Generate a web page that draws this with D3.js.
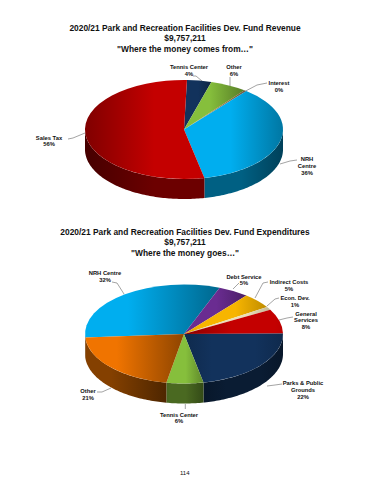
<!DOCTYPE html>
<html>
<head>
<meta charset="utf-8">
<script src="https://cdn.jsdelivr.net/npm/d3@7"></script>
<style>
  html, body { margin: 0; background: #fff; }
  text { font-family: "Liberation Sans", Arial, sans-serif; fill: #111; }
</style>
</head>
<body>
<div id="chart"></div>
<script>
// values
const revenueNames = ["Tennis Center", "Other", "Interest", "NRH Centre", "Sales Tax"];
const revenueShares = [4, 6, 0.4, 36, 54];   // slice sizes as they look in the picture
const revenueLabels = ["4%", "6%", "0%", "36%", "56%"];

const expenseNames = ["NRH Centre", "Debt Service", "Indirect Costs", "Econ. Dev.", "General Services", "Parks & Public Grounds", "Tennis Center", "Other"];
const expenseShares = [32, 5, 5, 1, 8, 22, 6, 21];
const expenseLabels = ["32%", "5%", "5%", "1%", "8%", "22%", "6%", "21%"];

const revenueTitle = ["2020/21 Park and Recreation Facilities Dev. Fund Revenue", "$9,757,211", "\"Where the money comes from…\""];
const expenseTitle = ["2020/21 Park and Recreation Facilities Dev. Fund Expenditures", "$9,757,211", "\"Where the money goes…\""];

// slice styles: base colour + which side of the slice is lit
const revenueStyle = [
  { c: "#12325c", lit: 0.3 }, { c: "#86bf3c", lit: 0.2 }, { c: "#c8a060", lit: 0 },
  { c: "#00aeef", lit: 0.25 }, { c: "#c40000", lit: 0.8 }
];
const expenseStyle = [
  { c: "#00aeef", lit: 0.1 }, { c: "#6a2c91", lit: 0.3 }, { c: "#f7b500", lit: 0.4 },
  { c: "#eadfb8", lit: 0.5 }, { c: "#c40000", lit: 0.7 }, { c: "#12325c", lit: 0.5 },
  { c: "#86bf3c", lit: 0.3 }, { c: "#f07400", lit: 0.1 }
];

// label layout: text anchor point, one entry per line, and leader line
const revenueLayout = [
  { x: 189, y: 69, lines: ["Tennis Center"], lead: [[193, 76], [196, 76], [202, 81]] },
  { x: 234, y: 69, lines: ["Other"], lead: [[230, 77], [230, 86]] },
  { x: 279, y: 85, lines: ["Interest"], lead: [[267, 83], [257, 85], [240, 94]] },
  { x: 307, y: 161, lines: ["NRH", "Centre"], lead: [[297, 160], [290, 161], [280, 164]] },
  { x: 49, y: 139.5, lines: ["Sales Tax"], lead: [[68, 139], [73, 138], [85, 133]] }
];
const expenseLayout = [
  { x: 105, y: 275, lines: ["NRH Centre"], lead: [[112, 282], [117, 283], [124, 294]] },
  { x: 244, y: 278.5, lines: ["Debt Service"], lead: [[239, 283], [233, 289]] },
  { x: 289, y: 284, lines: ["Indirect Costs"], lead: [[268, 282], [263, 283], [255, 298]] },
  { x: 295, y: 300, lines: ["Econ. Dev."], lead: [[279, 298], [275, 299], [267, 306]] },
  { x: 306, y: 315.5, lines: ["General", "Services"], lead: [[293, 317], [287, 318], [279, 320]] },
  { x: 303, y: 385, lines: ["Parks & Public", "Grounds"], lead: [[282, 384], [275, 385], [267, 386]] },
  { x: 179, y: 416.5, lines: ["Tennis Center"], lead: [[185.3, 404], [185.3, 409]] },
  { x: 88, y: 393, lines: ["Other"], lead: [[97, 392], [102, 392], [111, 388]] }
];

const width = 370, height = 480;
const rx = 99, ry = 49.5, depth = 20;
const lineGap = 6.9;

const svg = d3.select("#chart").append("svg")
    .attr("width", width)
    .attr("height", height)
    .style("display", "block");
const defs = svg.append("defs");

let gradId = 0;
function sliceGradient(color, lit, k) {
  // horizontal shading, flat around "lit" and falling off towards the far side
  const id = "g" + (gradId++);
  const base = d3.color(color);
  const g = defs.append("linearGradient").attr("id", id);
  const flat = 0.22;
  [0, Math.max(lit - flat, 0), Math.min(lit + flat, 1), 1].forEach(o => {
    const f = 1 - 0.6 * Math.max(Math.abs(o - lit) - flat, 0);
    g.append("stop").attr("offset", o)
      .attr("stop-color", d3.rgb(base.r * f * k, base.g * f * k, base.b * f * k));
  });
  return `url(#${id})`;
}

function drawPie(cx, cy, shares, styles, startAngle, titleLines, titleY, names, labels, layout) {
  const pie = d3.pie().sort(null).value(d => d)
      .startAngle(startAngle).endAngle(startAngle + 2 * Math.PI);
  const slices = pie(shares);
  const xs = d3.scaleLinear().domain([-1, 1]).range([cx - rx, cx + rx]);
  const ys = d3.scaleLinear().domain([-1, 1]).range([cy - ry, cy + ry]);
  const g = svg.append("g");

  // side wall: only the front half of the ellipse shows
  const wall = d3.line().curve(d3.curveLinear);
  const frontFrom = Math.PI / 2, frontTo = 3 * Math.PI / 2;
  slices.forEach((s, i) => {
    [0, 2 * Math.PI, -2 * Math.PI].forEach(turn => {
      const a0 = Math.max(s.startAngle + turn, frontFrom);
      const a1 = Math.min(s.endAngle + turn, frontTo);
      if (a1 <= a0) return;
      const angles = d3.range(a0, a1, 0.02).concat([a1]);
      const rim = angles.map(a => [xs(Math.sin(a)), ys(-Math.cos(a))]);
      const low = rim.map(p => [p[0], p[1] + depth]).reverse();
      g.append("path")
        .attr("d", wall(rim.concat(low)) + "Z")
        .attr("fill", sliceGradient(styles[i].c, styles[i].lit, 0.55));
    });
  });

  // top face is a plain d3 arc squashed to an ellipse
  const arc = d3.arc().innerRadius(0).outerRadius(rx);
  g.append("g")
      .attr("transform", `translate(${cx},${cy}) scale(1,${ry / rx})`)
    .selectAll("path")
    .data(slices)
    .enter()
    .append("path")
      .attr("d", arc)
      .attr("fill", (d, i) => sliceGradient(styles[i].c, styles[i].lit, 1));

  // titles
  svg.selectAll(null)
    .data(titleLines)
    .enter()
    .append("text")
      .attr("x", 185)
      .attr("y", (d, i) => titleY + i * 10.6)
      .attr("text-anchor", "middle")
      .style("font-size", "8.4px")
      .style("font-weight", "bold")
      .text(d => d);

  // labels + leader lines
  const leader = d3.line();
  layout.forEach((l, i) => {
    svg.append("path")
      .attr("d", leader(l.lead))
      .attr("fill", "none")
      .attr("stroke", "#666")
      .attr("stroke-width", 0.6);
    l.lines.concat([labels[i]]).forEach((t, j) => {
      svg.append("text")
        .attr("x", l.x)
        .attr("y", l.y + j * lineGap)
        .attr("text-anchor", "middle")
        .style("font-size", "5.8px")
        .style("font-weight", "bold")
        .text(t);
    });
  });
}

drawPie(184, 129.5, revenueShares, revenueStyle, 0.03, revenueTitle, 30.5, revenueNames, revenueLabels, revenueLayout);
drawPie(184, 334, expenseShares, expenseStyle, 4.64, expenseTitle, 234.8, expenseNames, expenseLabels, expenseLayout);

// page number
svg.append("text")
    .attr("x", 184.7)
    .attr("y", 474.5)
    .attr("text-anchor", "middle")
    .style("font-size", "6px")
    .text("114");
</script>
</body>
</html>
